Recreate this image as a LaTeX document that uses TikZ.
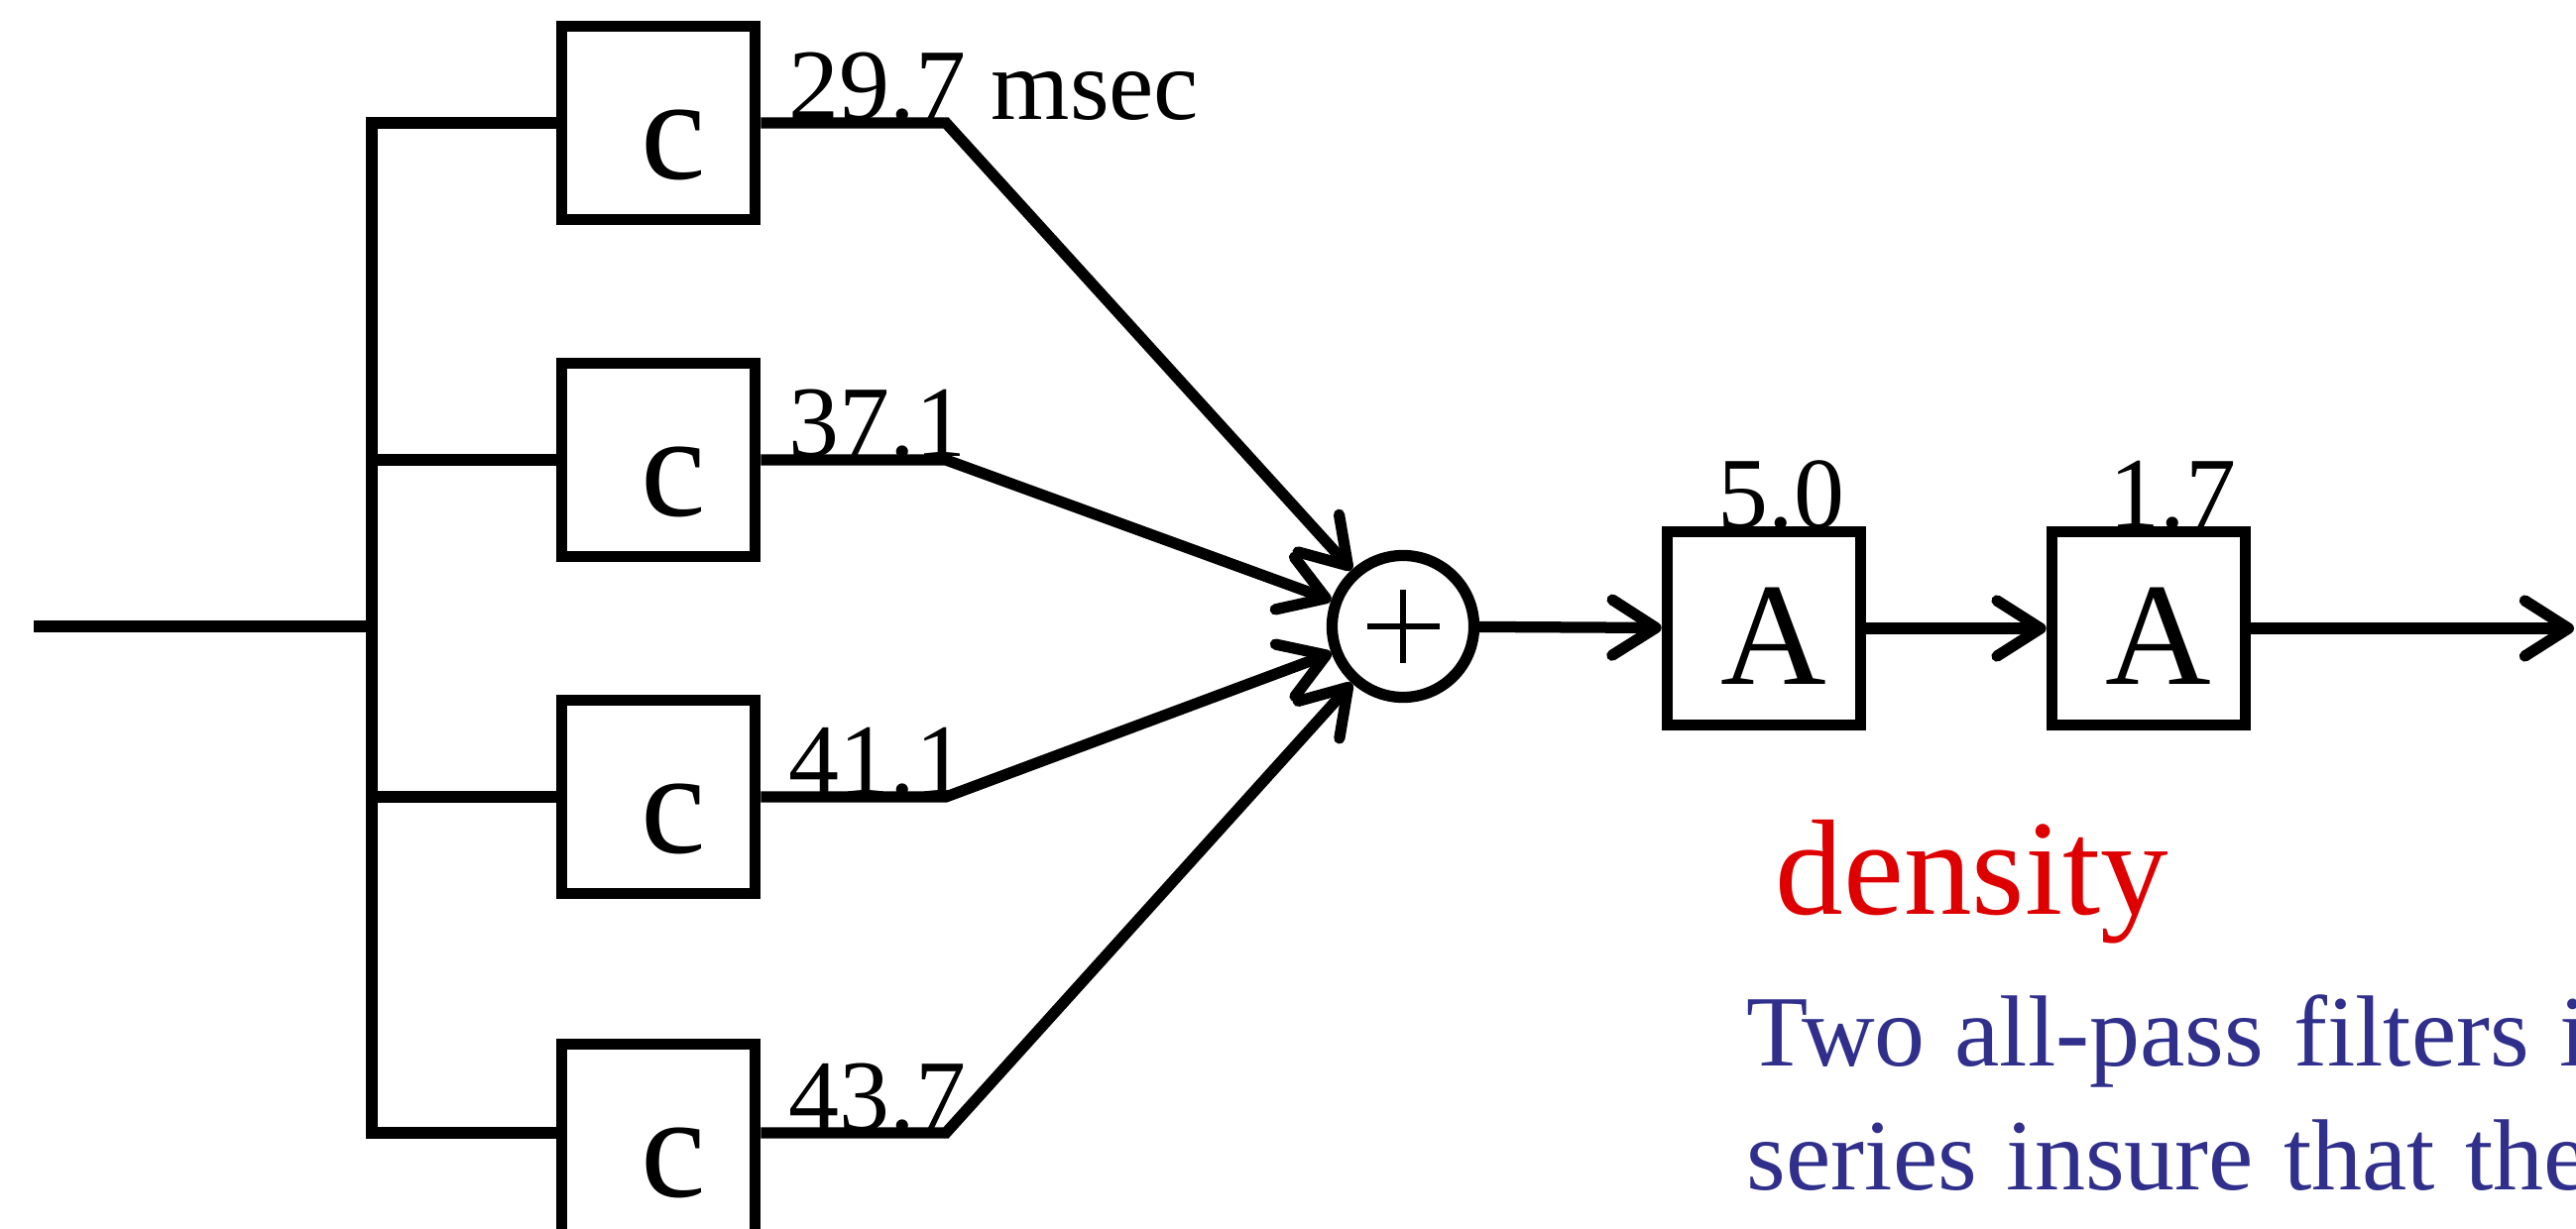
\documentclass[tikz,border=0pt]{standalone}
\usepackage{fontspec}
\setmainfont{Liberation Serif}
\usetikzlibrary{arrows.meta}
\definecolor{dred}{RGB}{222,0,0}
\definecolor{dblue}{RGB}{48,48,140}
\begin{document}
\begin{tikzpicture}[x=0.01cm,y=-0.01cm,
  wire/.style={line width=3.2pt},
  arr/.style={wire,-{Straight Barb[length=0.44cm,width=0.56cm,round]}},
  blk/.style={draw,line width=3.3pt,minimum width=1.95cm,minimum height=1.95cm,inner sep=0pt,
    font=\fontsize{42}{42}\selectfont,text height=1.12cm,text depth=0pt},
  num/.style={anchor=base west,inner sep=0pt,font=\fontsize{29}{29}\selectfont},
  sumnode/.style={draw,circle,line width=3.2pt,minimum size=1.43cm,inner sep=0pt},
  blue/.style={anchor=base west,inner sep=0pt,text=dblue,font=\fontsize{29}{34}\selectfont}
]
\useasboundingbox (0,0) rectangle (2598,1240);
\fill[white] (0,0) rectangle (2598,1240);

% delay boxes
\node[blk] (c1) at (664,124) {\hspace{0.3cm}c};
\node[blk] (c2) at (664,464) {\hspace{0.3cm}c};
\node[blk] (c3) at (664,804) {\hspace{0.3cm}c};
\node[blk] (c4) at (664,1151) {\hspace{0.3cm}c};

% summing node and all-pass boxes
\node[sumnode] (sum) at (1415,632) {};
\draw[line width=1.5pt] ([xshift=-0.365cm]sum.center) -- ([xshift=0.365cm]sum.center);
\draw[line width=1.5pt] ([yshift=-0.365cm]sum.center) -- ([yshift=0.365cm]sum.center);
\node[blk] (a1) at (1779,634) {\hspace{0.2cm}A};
\node[blk] (a2) at (2167,634) {\hspace{0.2cm}A};

% coordinates
\coordinate (in) at (34,632);
\coordinate (bt) at (375,124);
\coordinate (bb) at (375,1143);
\coordinate (o1) at (954,124);
\coordinate (o2) at (954,464);
\coordinate (o3) at (954,804);
\coordinate (o4) at (954,1143);
\coordinate (out) at (2596,634);

% input bus
\draw[wire] (c1.west) -- (bt) -- (bb) -- (bb -| c4.west);
\draw[wire] (c2.west) -- (c2.west -| bt);
\draw[wire] (c3.west) -- (c3.west -| bt);
\draw[wire] (in) -- (in -| bt);

% outputs to sum
\draw[arr] (c1.east) -- (o1) -- (sum);
\draw[arr] (c2.east) -- (o2) -- (sum);
\draw[arr] (c3.east) -- (o3) -- (sum);
\draw[arr] (o4 -| c4.east) -- (o4) -- (sum);

% chain
\draw[arr] (sum) -- (a1);
\draw[arr] (a1) -- (a2);
\draw[arr] (a2) -- (out);

% labels
\node[num] (l1) at (795,121) {29.7 msec};
\node[num] (l2) at (795,461) {37.1};
\node[num] (l3) at (795,801) {41.1};
\node[num] (l4) at (795,1140) {43.7};
\node[num] (l5) at (1732,532) {5.0};
\node[num] (l6) at (2127,532) {1.7};

\node[anchor=base west,inner sep=0pt,text=dred,font=\fontsize{39}{39}\selectfont] (dens) at (1790,922) {density};
\begin{scope}
\clip (0,0) rectangle (2598,1240);
\node[blue] (t1) at (1761,1075) {\spaceskip=0.3cm\relax Two all-pass filters in};
\node[blue] (t2) at (1761,1200) {\spaceskip=0.3cm\relax series insure that the};
\end{scope}
\end{tikzpicture}
\end{document}
